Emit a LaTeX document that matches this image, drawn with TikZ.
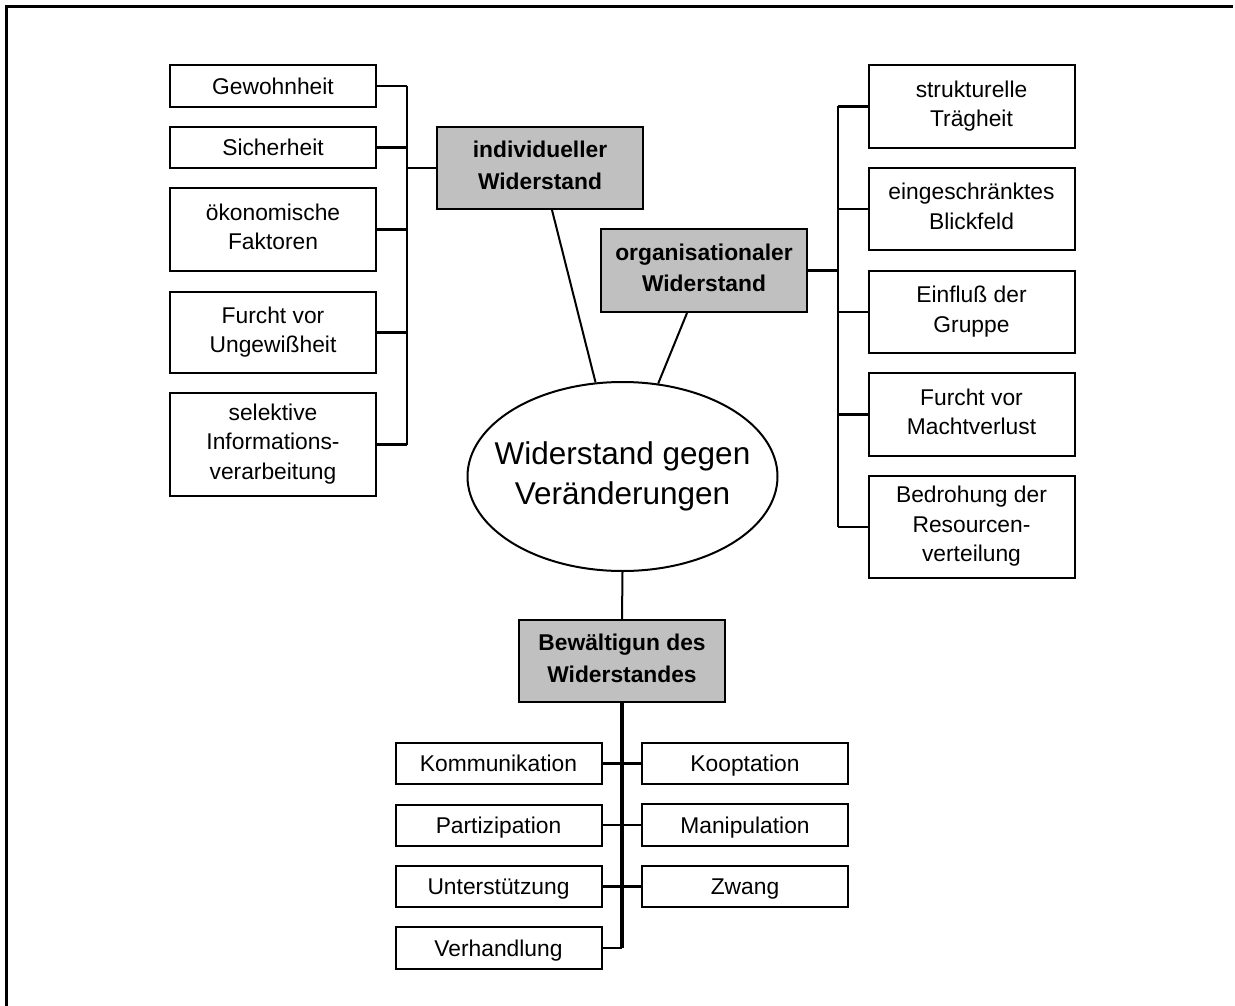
\documentclass[tikz,border=0pt]{standalone}
\usepackage{fontspec}
\setmainfont{Liberation Sans}
\usetikzlibrary{shapes.geometric}
\definecolor{boxgray}{HTML}{C0C0C0}
\newcommand\boxfont{\fontsize{22.8}{29.5}\selectfont}
\newcommand\headfont{\fontsize{22.8}{31.5}\selectfont\bfseries}
\newcommand\ellfont{\fontsize{31.5}{40}\selectfont}
% strut that centres the capital letters of a line on the box centre
\newcommand\capstrut{\rule[-6pt]{0pt}{28.4pt}}
\begin{document}
\begin{tikzpicture}[x=1pt,y=-1pt,
  box/.style={draw, line width=2pt, fill=white, inner sep=0pt, align=center,
    minimum width=206pt, font=\boxfont,
    execute at begin node=\capstrut, execute at end node=\capstrut},
  headbox/.style={box, fill=boxgray, font=\headfont},
  bracket/.style={line width=2.5pt},
  trunk/.style={line width=3.5pt},
  link/.style={line width=2pt}]
\useasboundingbox (0,0) rectangle (1235,1006);
% page frame (top and left edges)
\draw[line width=3pt] (6.5,1006) -- (6.5,6.5) -- (1233,6.5);

% centre
\node[draw, line width=2pt, ellipse, minimum width=310pt, minimum height=189pt,
  inner sep=0pt] (ell) at (622.5,476.5) {};
\node[align=center, font=\ellfont, inner sep=0pt] (elltext) at (ell.center)
  {Widerstand gegen\\Veränderungen};

% head boxes
\node[headbox, minimum height=82pt] (ind) at (540,168) {individueller\\Widerstand};
\node[headbox, minimum height=83pt] (org) at (704,270.5) {organisationaler\\Widerstand};
\node[headbox, minimum height=82pt] (bew) at (622,661) {Bewältigun des\\Widerstandes};

% individual resistance
\node[box, minimum height=41.5pt] (gew) at (273,86) {Gewohnheit};
\node[box, minimum height=41pt] (sich) at (273,147.5) {Sicherheit};
\node[box, minimum height=83pt] (oek) at (273,229.5) {ökonomische\\Faktoren};
\node[box, minimum height=81pt] (fung) at (273,332.5) {Furcht vor\\Ungewißheit};
\node[box, minimum height=103pt] (sel) at (273,444.5) {selektive\\Informations-\\verarbeitung};

% organisational resistance
\node[box, minimum height=83pt] (str) at (971.5,106.5) {strukturelle\\Trägheit};
\node[box, minimum height=82pt] (ein) at (971.5,209) {eingeschränktes\\Blickfeld};
\node[box, minimum height=82pt] (grp) at (971.5,312) {Einfluß der\\Gruppe};
\node[box, minimum height=83pt] (macht) at (971.5,414.5) {Furcht vor\\Machtverlust};
\node[box, minimum height=102pt] (res) at (971.5,527) {Bedrohung der\\Resourcen-\\verteilung};

% coping with resistance
\node[box, minimum height=41pt] (kom) at (498.5,763.5) {Kommunikation};
\node[box, minimum height=41pt] (par) at (498.5,825) {Partizipation};
\node[box, minimum height=41pt] (unt) at (498.5,886.5) {Unterstützung};
\node[box, minimum height=42pt] (verh) at (498.5,948) {Verhandlung};
\node[box, minimum height=41pt] (koop) at (745,763.5) {Kooptation};
\node[box, minimum height=42pt] (man) at (745,825) {Manipulation};
\node[box, minimum height=41pt] (zw) at (745,886.5) {Zwang};

% left bracket
\coordinate (lb) at (407,86);
\draw[bracket] (gew.east -| lb) -- (sel.east -| lb);
\foreach \n in {gew,sich,oek,fung,sel}
  \draw[bracket] (\n.east) -- (\n.east -| lb);
\draw[bracket] (ind.west) -- (ind.west -| lb);

% right bracket
\coordinate (rb) at (838,106.5);
\draw[bracket] (str.west -| rb) -- (res.west -| rb);
\foreach \n in {str,ein,grp,macht,res}
  \draw[bracket] (\n.west) -- (\n.west -| rb);
\draw[bracket] (org.east) -- (org.east -| rb);

% links to the centre
\draw[link] ([xshift=12pt]ind.south) -- (ell.106);
\draw[link] ([xshift=-17pt]org.south) -- (ell.69);
\draw[link] (ell.south) -- (bew.north);

% trunk below the coping box
\draw[trunk] (bew.south) -- (bew.south |- verh.east);
\draw[bracket] (kom.east) -- (koop.west);
\draw[bracket] (par.east) -- (man.west);
\draw[bracket] (unt.east) -- (zw.west);
\draw[bracket] (verh.east) -- (verh.east -| bew.south);
\end{tikzpicture}
\end{document}
